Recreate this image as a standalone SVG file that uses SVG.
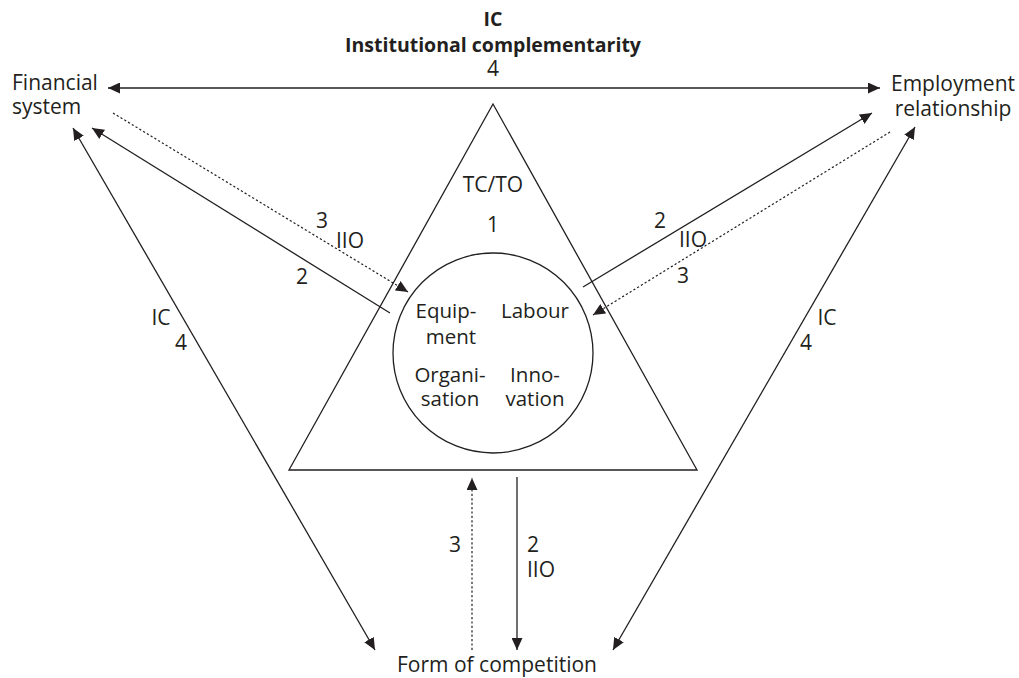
<svg xmlns="http://www.w3.org/2000/svg" width="1019" height="678" viewBox="0 0 1019 678">
<style>
text{font-family:"Open Sans","Noto Sans","Liberation Sans",sans-serif;font-size:21px;fill:#231f20}
.b{font-weight:bold;font-size:19.5px}
.m{text-anchor:middle}
.c{font-size:20.5px}
.ln{stroke:#231f20;stroke-width:1.3;fill:none}
.dt{stroke-dasharray:2.2,2.2;stroke-width:1.2}
</style>
<defs>
<marker id="ah" viewBox="0 0 12 11" refX="12" refY="5.5" markerWidth="12" markerHeight="11" markerUnits="userSpaceOnUse" orient="auto-start-reverse">
<path d="M0,0 L12,5.5 L0,11 Z" fill="#231f20"/>
</marker>
</defs>
<rect width="1019" height="678" fill="#fff"/>
<g id="title">
<text class="b m" x="493" y="26">IC</text>
<text class="b m" x="493" y="52">Institutional complementarity</text>
<text class="m" x="493" y="76">4</text>
</g>
<g id="financial">
<text x="12" y="90">Financial</text>
<text x="12" y="114">system</text>
</g>
<g id="employment">
<text class="m" x="953" y="91">Employment</text>
<text class="m" x="953" y="116">relationship</text>
</g>
<g id="competition">
<text class="m" x="497" y="672">Form of competition</text>
</g>
<g id="firm">
<polygon class="ln" points="493,104 289,470 697,470"/>
<text class="m" x="493" y="192">TC/TO</text>
<text class="m" x="493" y="232">1</text>
<circle class="ln" cx="493" cy="353" r="100"/>
<text class="m c" x="446" y="318">Equip-</text>
<text class="m c" x="451" y="344">ment</text>
<text class="m c" x="535" y="318">Labour</text>
<text class="m c" x="450" y="382">Organi-</text>
<text class="m c" x="450" y="406">sation</text>
<text class="m c" x="535" y="382">Inno-</text>
<text class="m c" x="535" y="406">vation</text>
</g>
<g id="connectors">
<line class="ln" x1="108" y1="88" x2="880" y2="88" marker-start="url(#ah)" marker-end="url(#ah)"/>
<line class="ln" x1="390" y1="313" x2="92" y2="128" marker-end="url(#ah)"/>
<line class="ln dt" x1="113" y1="113" x2="408" y2="292" marker-end="url(#ah)"/>
<line class="ln" x1="73" y1="128" x2="375" y2="650" marker-start="url(#ah)" marker-end="url(#ah)"/>
<line class="ln" x1="583" y1="287" x2="872" y2="113" marker-end="url(#ah)"/>
<line class="ln dt" x1="890" y1="132" x2="593" y2="315" marker-end="url(#ah)"/>
<line class="ln" x1="915" y1="127" x2="613" y2="650" marker-start="url(#ah)" marker-end="url(#ah)"/>
<line class="ln dt" x1="472" y1="650" x2="472" y2="478" marker-end="url(#ah)"/>
<line class="ln" x1="517" y1="477" x2="517" y2="650" marker-end="url(#ah)"/>
</g>
<g id="labels">
<text class="m" x="322" y="228">3</text>
<text class="m" x="350" y="248">IIO</text>
<text class="m" x="302" y="284">2</text>
<text class="m" x="161" y="325">IC</text>
<text class="m" x="181" y="350">4</text>
<text class="m" x="660" y="228">2</text>
<text class="m" x="693" y="247">IIO</text>
<text class="m" x="683" y="283">3</text>
<text class="m" x="827" y="325">IC</text>
<text class="m" x="806" y="350">4</text>
<text class="m" x="455" y="552">3</text>
<text x="527" y="552">2</text>
<text x="527" y="577">IIO</text>
</g>
</svg>
